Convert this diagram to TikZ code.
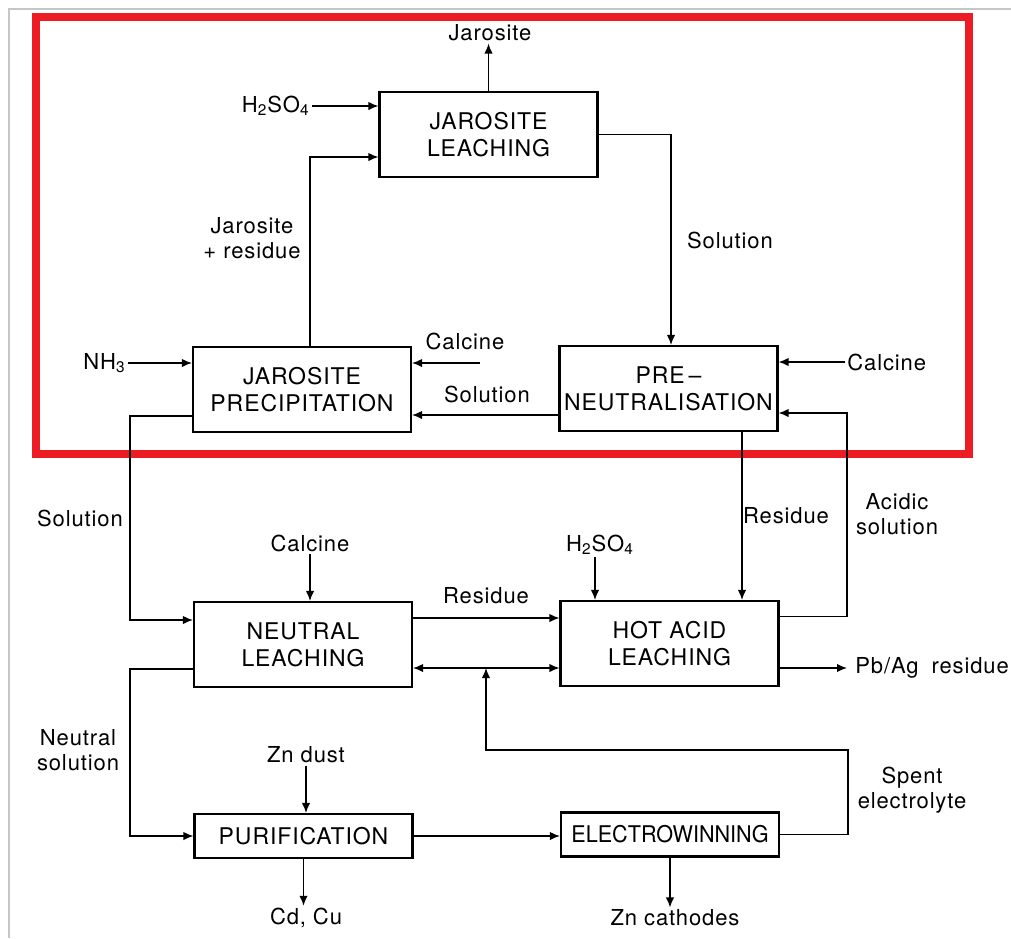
\documentclass[tikz,border=0pt]{standalone}
\usepackage{fontspec}
\setmainfont[LetterSpace=4]{TeX Gyre Heros}
\usetikzlibrary{arrows.meta}
\definecolor{framered}{RGB}{237,28,36}
\newcommand{\chemsub}[1]{\textsubscript{#1}}
\begin{document}
\begin{tikzpicture}[x=0.5pt,y=-0.5pt,
  unitbox/.style={draw, line width=1.1pt, inner sep=0pt, align=center,
    minimum width=109pt, minimum height=42.5pt,
    font=\fontsize{11.5}{13.5}\selectfont},
  thinbox/.style={unitbox, minimum height=22pt},
  lbl/.style={inner sep=1pt, align=center, font=\fontsize{11}{12.5}\selectfont},
  conn/.style={line width=0.65pt, -{Latex[length=5pt,width=4.2pt]}},
  biconn/.style={line width=0.65pt, {Latex[length=5pt,width=4.2pt]}-{Latex[length=5pt,width=4.2pt]}},
  line/.style={line width=0.65pt}]
\useasboundingbox (0,0) rectangle (1011,938);

% page edge and highlight frame
\draw[gray!45, line width=0.6pt] (9,938) -- (9,9) -- (1011,9);
\draw[framered, line width=4pt] (36,17) rectangle (969,454);

% process units
\node[unitbox] (jl)  at (488.5,134.5) {JAROSITE\\LEACHING};
\node[unitbox] (jp)  at (302,389.5)   {JAROSITE\\PRECIPITATION};
\node[unitbox] (pn)  at (668.5,388.5) {PRE\,--\\NEUTRALISATION};
\node[unitbox] (nl)  at (303,644.5)   {NEUTRAL\\LEACHING};
\node[unitbox] (hal) at (669.5,643.5) {HOT ACID\\LEACHING};
\node[thinbox] (pur) at (303.5,836)   {PURIFICATION};
\node[thinbox, font=\fontsize{11.5}{13.5}\selectfont\addfontfeatures{LetterSpace=0,FakeStretch=0.94}] (ew) at (670,834.5) {ELECTROWINNING};

% feeds and products
\node[lbl] (jar) at (490,33) {Jarosite};
\node[lbl, anchor=east] (h2a) at (312,106) {H\chemsub{2}SO\chemsub{4}};
\node[lbl, anchor=east] (nh3) at (128,363) {NH\chemsub{3}};
\node[lbl] (calc1) at (465,341) {Calcine};
\coordinate (calc1end) at (480,363);
\node[lbl, anchor=west] (calc2) at (845,362) {Calcine};
\node[lbl] (calc3) at (310,543) {Calcine};
\node[lbl] (h2b) at (600,545) {H\chemsub{2}SO\chemsub{4}};
\node[lbl, anchor=west, inner sep=0pt] (pbag) at (847,668) {\hspace{4pt}Pb/Ag\hspace{3pt} residue};
\node[lbl] (zndust) at (306,755) {Zn dust};
\node[lbl] (cdcu) at (306,918) {Cd, Cu};
\node[lbl] (zncath) at (675,918) {Zn cathodes};

% stream labels
\node[lbl] at (252,238) {Jarosite\\+ residue};
\node[lbl] at (730,240) {Solution};
\node[lbl] at (487,394) {Solution};
\node[lbl] at (80,518) {Solution};
\node[lbl] at (786,516) {Residue};
\node[lbl] at (897,514) {Acidic\\solution};
\node[lbl] at (486,596) {Residue};
\node[lbl] at (78,750) {Neutral\\solution};
\node[lbl] at (912,790) {Spent\\electrolyte};

% routing points
\coordinate (acidx) at (847,500);
\coordinate (solx) at (130,500);
\coordinate (neux) at (130,750);
\coordinate (spentturn) at (848,750);
\coordinate (spentjoin) at (486,668);

% connectors
\draw[conn] (jl.north) -- (jl.north |- jar.south);
\draw[conn] (h2a.east) -- (h2a.east -| jl.west);
\draw[conn] ([xshift=4pt]jp.north) |- ([yshift=-11.25pt]jl.west);
\draw[conn] (jl.east) -| ([xshift=1.25pt]pn.north);
\draw[conn] (nh3.east) -- (nh3.east -| jp.west);
\draw[conn] (calc1end) -- (calc1end -| jp.east);
\draw[conn] ([yshift=-13.25pt]pn.west) -- ([yshift=-13.25pt]pn.west -| jp.east);
\draw[conn] (calc2.west) -- (calc2.west -| pn.east);
\draw[conn] ([yshift=13.5pt]hal.east) -| (acidx) |- ([yshift=-12.25pt]pn.east);
\draw[conn] ([xshift=36.75pt]pn.south) -- ([xshift=36.75pt]pn.south |- hal.north);
\draw[conn] ([yshift=-13.25pt]jp.west) -| (solx) |- ([yshift=12.25pt]nl.west);
\draw[conn] (calc3.south) -- (calc3.south |- nl.north);
\draw[conn] ([xshift=-2.5pt]h2b.south) -- ([xshift=-2.5pt]h2b.south |- hal.north);
\draw[conn] ([yshift=13.25pt]nl.east) -- ([yshift=13.25pt]nl.east -| hal.west);
\draw[biconn] ([yshift=-11.75pt]nl.east) -- ([yshift=-11.75pt]nl.east -| hal.west);
\draw[conn] (ew.east) -| (spentturn) -- (spentturn -| spentjoin) -- (spentjoin);
\draw[conn] (pbag.west -| hal.east) -- (pbag.west);
\draw[conn] ([yshift=-12.25pt]nl.west) -| (neux) |- (pur.west);
\draw[conn] (zndust.south) -- (zndust.south |- pur.north);
\draw[conn] (pur.east) -- (pur.east -| ew.west);
\draw[conn] (pur.south) -- (pur.south |- cdcu.north);
\draw[conn] (ew.south) -- (ew.south |- zncath.north);
\end{tikzpicture}
\end{document}
